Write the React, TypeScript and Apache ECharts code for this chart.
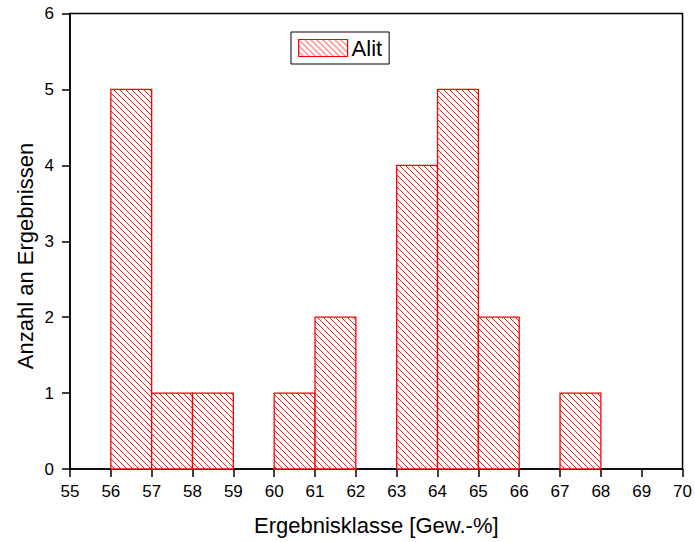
import React, { useEffect, useRef } from "react";
import * as echarts from "echarts";

const seriesName = "Alit";
const binStarts = [56, 57, 58, 60, 61, 63, 64, 65, 67];
const binEnds = [57, 58, 59, 61, 62, 64, 65, 66, 68];
const counts = [5, 1, 1, 1, 2, 4, 5, 2, 1];
const xTitle = "Ergebnisklasse [Gew.-%]";
const yTitle = "Anzahl an Ergebnissen";

function makeHatch(): HTMLCanvasElement {
  const c = document.createElement("canvas");
  const s = 6;
  c.width = s;
  c.height = s;
  const ctx = c.getContext("2d")!;
  ctx.fillStyle = "#ffffff";
  ctx.fillRect(0, 0, s, s);
  ctx.strokeStyle = "#ff1a1a";
  ctx.lineWidth = 1;
  ctx.beginPath();
  ctx.moveTo(-1, -1);
  ctx.lineTo(s + 1, s + 1);
  ctx.moveTo(-1, s - 1);
  ctx.lineTo(1, s + 1);
  ctx.moveTo(s - 1, -1);
  ctx.lineTo(s + 1, 1);
  ctx.stroke();
  return c;
}

export default function App() {
  const ref = useRef<HTMLDivElement>(null);
  useEffect(() => {
    if (!ref.current) return;
    const chart = echarts.init(ref.current, null, { renderer: "svg" });
    const hatch = { image: makeHatch(), repeat: "repeat" } as any;
    const data = binStarts.map((s, i) => [s, binEnds[i], counts[i]]);
    const font = "'Liberation Sans', Arial, sans-serif";
    chart.setOption({
      animation: false,
      backgroundColor: "#ffffff",
      textStyle: { fontFamily: font },
      grid: {
        left: 70,
        right: 12,
        top: 13.5,
        bottom: 73,
        show: true,
        borderColor: "#000",
        borderWidth: 1.5,
      },
      graphic: [
        {
          type: "text",
          x: 25,
          y: 256,
          rotation: Math.PI / 2,
          style: {
            text: yTitle,
            fontSize: 22,
            fontFamily: font,
            fill: "#000",
            align: "center",
            verticalAlign: "middle",
          },
        },
      ],
      legend: {
        left: 291,
        top: 32,
        padding: [5, 7, 5, 7],
        borderColor: "#000",
        borderWidth: 1,
        borderRadius: 0,
        itemWidth: 49,
        itemHeight: 17,
        itemGap: 5,
        textStyle: { fontSize: 22, color: "#000", fontFamily: font, padding: [0, 0, 0, -1] },
        data: [
          {
            name: seriesName,
            icon: "rect",
            itemStyle: { color: hatch, borderColor: "#ff0000", borderWidth: 1.2 },
          },
        ],
      },
      xAxis: {
        type: "value",
        min: 55,
        max: 70,
        interval: 1,
        name: xTitle,
        nameLocation: "middle",
        nameGap: 45,
        nameTextStyle: { fontSize: 22, color: "#000", fontFamily: font },
        splitLine: { show: false },
        axisLine: { lineStyle: { color: "#000", width: 1.5 } },
        axisTick: { length: 8, lineStyle: { color: "#000", width: 1.5 } },
        axisLabel: { fontSize: 17, color: "#000", margin: 14, fontFamily: font },
      },
      yAxis: {
        type: "value",
        min: 0,
        max: 6,
        interval: 1,
        splitLine: { show: false },
        axisLine: { show: true, lineStyle: { color: "#000", width: 1.5 } },
        axisTick: { show: true, length: 8, lineStyle: { color: "#000", width: 1.5 } },
        axisLabel: { fontSize: 17, color: "#000", margin: 16, fontFamily: font },
      },
      series: [
        {
          name: seriesName,
          type: "custom",
          itemStyle: { color: hatch },
          data,
          encode: { x: [0, 1], y: 2 },
          renderItem: (params: any, api: any) => {
            const x0 = api.value(0);
            const x1 = api.value(1);
            const y = api.value(2);
            const p0 = api.coord([x0, y]);
            const p1 = api.coord([x1, 0]);
            return {
              type: "rect",
              shape: { x: p0[0], y: p0[1], width: p1[0] - p0[0], height: p1[1] - p0[1] },
              style: { fill: hatch, stroke: "#ff0000", lineWidth: 1.3 },
            };
          },
        },
      ],
    });
    return () => chart.dispose();
  }, []);
  return (
    <div
      ref={ref}
      style={{ position: "fixed", left: 0, top: 0, width: 695, height: 542 }}
    />
  );
}
